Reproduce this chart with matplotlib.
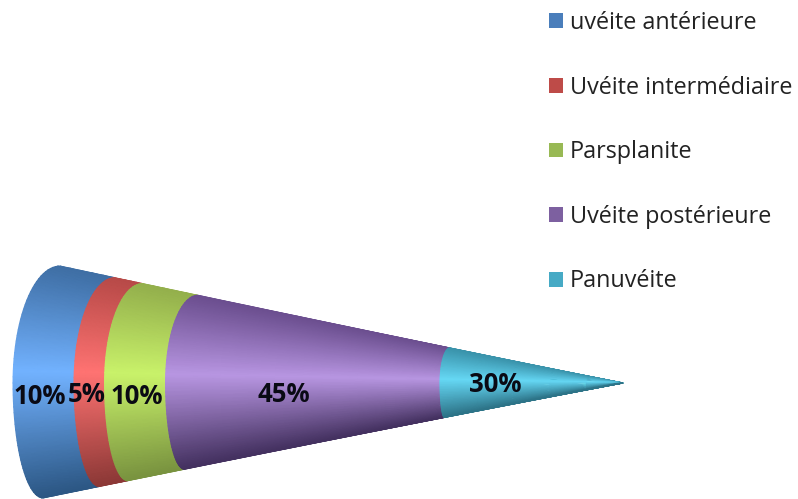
import numpy as np
import matplotlib
matplotlib.use('Agg')
import matplotlib.pyplot as plt
from matplotlib.patches import Patch

categories = ['uvéite antérieure', 'Uvéite intermédiaire', 'Parsplanite', 'Uvéite postérieure', 'Panuvéite']
values = [10, 5, 10, 45, 30]
labels = ['10%', '5%', '10%', '45%', '30%']

# legend colour, then shading of the cone: edge top, highlight, edge bottom
legend_colors = ['#4a7ebb', '#be4b48', '#98b954', '#7d60a0', '#46aac5']
top_colors = ['#3f6fa5', '#b84a48', '#94b04c', '#6c4f90', '#3a93ab']
mid_colors = ['#72b2ff', '#ff7372', '#c9f26a', '#b896e2', '#66d8f5']
bottom_colors = ['#2c5784', '#8c3836', '#79933f', '#443160', '#2d7488']

# where the labels sit, in pixels
label_x = [40, 87, 137, 284, 495]
label_y = [396, 394, 396, 394, 385]

W, H = 798, 499
x0, per_pct = 13, 6.1  # 0% and pixels per 1%
yc, up, down = 383, 117, 115
bulge_top, bulge_bottom = 47, 30

fig = plt.figure(figsize=(W / 100, H / 100), dpi=100)
ax = fig.add_axes([0, 0, 1, 1])
ax.set_xlim(-x0 / per_pct, (W - x0) / per_pct)
ax.set_ylim(H, 0)
ax.axis('off')


def surface(s, t):
    # s = percent along the cone, t = -1 top edge .. 1 bottom edge
    f = 1 - s / 100
    y = yc + np.where(t < 0, up, down) * t * f
    d = np.where(t < 0, bulge_top * f ** 1.3, bulge_bottom * f ** 1.6)
    x = s + d * (1 - np.sqrt(1 - t ** 2)) / per_pct
    return x, y


def shade(t, top, mid, bottom):
    top, mid, bottom = [np.array(matplotlib.colors.to_rgb(c)) for c in (top, mid, bottom)]
    out = np.zeros(t.shape + (3,))
    for i in range(3):
        out[..., i] = np.interp(t, [-1, -0.1, 1], [top[i], mid[i], bottom[i]])
    return out


start = 0
for i, v in enumerate(values):
    s = np.linspace(start, start + v, 6)
    t = np.sin(np.linspace(-np.pi / 2, np.pi / 2, 61))
    S, T = np.meshgrid(s, t)
    X, Y = surface(S, T)
    ax.pcolormesh(X, Y, shade(T, top_colors[i], mid_colors[i], bottom_colors[i]), shading='gouraud')
    start += v

for i, lab in enumerate(labels):
    ax.text((label_x[i] - x0) / per_pct, label_y[i], lab, ha='center', va='center',
            fontsize=18.5, fontweight='bold', family='Open Sans', color='#0a0a14')

handles = [Patch(facecolor=c, edgecolor='none') for c in legend_colors]
ax.legend(handles, categories, loc='upper left', bbox_to_anchor=(549 / W, 1 - 11 / H), frameon=False,
          prop={'family': 'Open Sans', 'size': 16.8}, labelcolor='#222222', labelspacing=1.74,
          handlelength=0.6, handleheight=0.6, handletextpad=0.3, borderaxespad=0, borderpad=0)

fig.savefig('out.png', dpi=100)
